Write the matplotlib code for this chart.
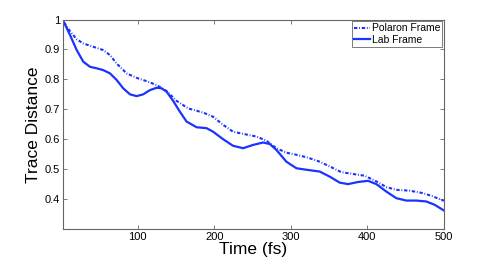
import matplotlib
matplotlib.use("Agg")
from matplotlib import pyplot as plt

plt.rcParams['font.family'] = ['Liberation Sans', 'DejaVu Sans']
plt.rcParams['lines.scale_dashes'] = False

# Lab frame (solid)
lab_t = [3.9, 11.7, 20.4, 29, 37.8, 46.5, 55, 63.9, 72.6, 81.2, 90, 98.7, 107.3, 116,
         124.8, 131.3, 137.8, 146.4, 155.2, 163.9, 177, 190, 198.6, 211.7, 224.7, 237.8,
         250.8, 263.9, 272.6, 281.3, 294.3, 307.4, 320.4, 337.8, 350.9, 363.9, 374.8,
         387.8, 400.9, 411.8, 424.9, 437.9, 450.9, 464, 477, 487.9, 500]
lab_d = [0.99, 0.948, 0.898, 0.859, 0.842, 0.837, 0.831, 0.82, 0.798, 0.77, 0.75, 0.744,
         0.75, 0.764, 0.772, 0.77, 0.759, 0.728, 0.692, 0.659, 0.64, 0.637, 0.625, 0.60,
         0.578, 0.57, 0.581, 0.589, 0.584, 0.564, 0.525, 0.503, 0.498, 0.492, 0.475,
         0.455, 0.45, 0.457, 0.461, 0.45, 0.425, 0.403, 0.395, 0.395, 0.392, 0.381, 0.362]

# Polaron frame (dash-dot)
pol_t = [3.9, 11.7, 20.4, 29, 42, 55, 63.9, 72.6, 85.6, 98.7, 111.7, 124.8, 137.8, 150.9,
         166, 185.6, 198.6, 211.7, 224.7, 237.8, 255.2, 268.2, 281.3, 294.3, 307.4,
         320.4, 337.8, 350.9, 366, 381.1, 396.5, 411.8, 424.9, 437.9, 455.3, 472.6,
         485.7, 500]
pol_d = [0.99, 0.961, 0.934, 0.92, 0.909, 0.898, 0.881, 0.853, 0.82, 0.805, 0.794, 0.781,
         0.761, 0.728, 0.703, 0.689, 0.675, 0.648, 0.625, 0.618, 0.609, 0.595, 0.57,
         0.555, 0.548, 0.540, 0.525, 0.509, 0.49, 0.484, 0.478, 0.459, 0.44, 0.431,
         0.428, 0.42, 0.409, 0.394]

fig = plt.figure(figsize=(4.91, 2.61), dpi=100)
ax = fig.add_axes([0.1283, 0.1226, 0.7757, 0.8026])

blue = '#1a33ff'
ax.plot(pol_t, pol_d, color=blue, linestyle=(0, (2.4, 1.3, 0.6, 1.3)), linewidth=1.5,
        label='Polaron Frame')
ax.plot(lab_t, lab_d, color=blue, linestyle='-', linewidth=1.6, label='Lab Frame')

ax.set_xlim(2.5, 500)
ax.set_ylim(0.3, 1.0)
ax.set_xticks([100, 200, 300, 400, 500])
ax.set_yticks([0.4, 0.5, 0.6, 0.7, 0.8, 0.9, 1.0])
ax.set_yticklabels(['0.4', '0.5', '0.6', '0.7', '0.8', '0.9', '1'])
ax.tick_params(direction='in', top=True, right=True, labelsize=8, length=3,
               color='#666666', width=0.6, pad=2)
for s in ax.spines.values():
    s.set_color('#666666')
    s.set_linewidth(0.8)

ax.set_xlabel('Time (fs)', fontsize=12.5, labelpad=0)
ax.set_ylabel('Trace Distance', fontsize=12.5, labelpad=3)

leg = ax.legend(loc='upper right', fontsize=7.5, fancybox=False, framealpha=1,
                edgecolor='#666666', handlelength=1.5, handletextpad=0.2,
                borderpad=0.2, labelspacing=0.15, borderaxespad=0.15)
leg.get_frame().set_linewidth(0.6)

fig.savefig('out.png', dpi=100)
